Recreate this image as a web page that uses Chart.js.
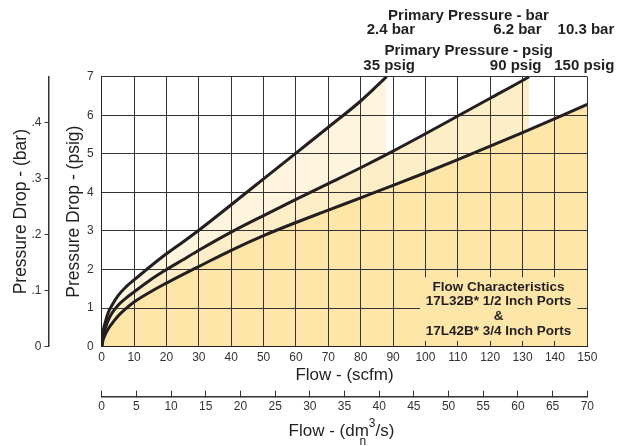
<!DOCTYPE html>
<html><head><meta charset="utf-8">
<script src="https://cdn.jsdelivr.net/npm/chart.js@4/dist/chart.umd.min.js"></script>
<style>html,body{margin:0;padding:0;background:#fff}canvas{display:block}</style>
</head><body>
<canvas id="c" width="626" height="446" style="width:626px;height:446px"></canvas>
<script>
// ---- data ----
const flow35 = [0, 0.5, 1, 2, 3, 5, 7.5, 10, 15, 20, 25, 30, 40, 50, 60, 70, 80, 88];
const drop35 = [0, 0.42, 0.6, 0.88, 1.05, 1.32, 1.55, 1.73, 2.08, 2.41, 2.71, 3.02, 3.68, 4.35, 5.02, 5.69, 6.37, 7.0];
const flow90 = [0, 0.5, 1, 2, 3, 5, 7.5, 10, 15, 20, 25, 30, 40, 50, 60, 70, 80, 90, 100, 110, 120, 130, 132];
const drop90 = [0, 0.3, 0.45, 0.68, 0.85, 1.07, 1.26, 1.42, 1.73, 2.0, 2.25, 2.5, 2.97, 3.4, 3.82, 4.23, 4.64, 5.07, 5.52, 5.98, 6.44, 6.9, 7.0];
const flow150 = [0, 0.5, 1, 2, 3, 5, 7.5, 10, 15, 20, 25, 30, 40, 50, 60, 70, 80, 90, 100, 110, 120, 130, 140, 150];
const drop150 = [0, 0.2, 0.3, 0.46, 0.58, 0.79, 0.99, 1.16, 1.42, 1.65, 1.87, 2.08, 2.5, 2.88, 3.22, 3.54, 3.86, 4.18, 4.51, 4.85, 5.2, 5.55, 5.91, 6.28];
const seriesNames = ['150 psig', '90 psig', '35 psig'];
const barTickLabels = ['0', '.1', '.2', '.3', '.4'];
const psigTickLabels = ['0', '1', '2', '3', '4', '5', '6', '7'];
const barHeaderLabels = ['2.4 bar', '6.2 bar', '10.3 bar'];
const psigHeaderLabels = ['35 psig', '90 psig', '150 psig'];
const boxLines = ['Flow Characteristics', '17L32B* 1/2 Inch Ports', '&', '17L42B* 3/4 Inch Ports'];
const PSI_PER_BAR = 14.5038;
const SCFM_MAX = 150, DM_MAX = 70, PSIG_MAX = 7;

const FONT = '"Liberation Sans", Arial, Helvetica, sans-serif';
const INK = '#231f20';
const FILLS = ['#fde6a8', '#feeec8', '#fff5df'];

const toXY = (xs, ys) => xs.map((x, i) => ({x: x, y: ys[i]}));

const annot = {
  id: 'annot',
  afterDatasetsDraw(chart) {
    const ctx = chart.ctx, xs = chart.scales.x, ys = chart.scales.y;
    const l = xs.getPixelForValue(98.3), r = xs.getPixelForValue(146.9);
    const t = ys.getPixelForValue(1.8), b = ys.getPixelForValue(0.15);
    ctx.save();
    ctx.fillStyle = FILLS[0];
    ctx.fillRect(l, t, r - l, b - t);
    ctx.fillStyle = INK;
    ctx.font = 'bold 13.5px ' + FONT;
    ctx.textAlign = 'center';
    ctx.textBaseline = 'middle';
    const cx = (l + r) / 2;
    boxLines.forEach((s, i) => ctx.fillText(s, cx, 287 + i * 14.7));
    ctx.restore();
  },
  afterDraw(chart) {
    const ctx = chart.ctx;
    ctx.save();
    ctx.fillStyle = INK;
    ctx.textBaseline = 'middle';
    ctx.font = 'bold 15px ' + FONT;
    ctx.textAlign = 'center';
    ctx.fillText('Primary Pressure - bar', 468.5, 15.5);
    ctx.fillText('Primary Pressure - psig', 468.7, 51);
    ctx.textAlign = 'right';
    const rights = [415, 541.5, 614.3];
    barHeaderLabels.forEach((s, i) => ctx.fillText(s, rights[i], 30));
    psigHeaderLabels.forEach((s, i) => ctx.fillText(s, rights[i], 65.5));
    // dm3/s title
    const dm = chart.scales.dm;
    const cx = (dm.left + dm.right) / 2 - 3;
    const base = 436;
    ctx.textBaseline = 'alphabetic';
    ctx.textAlign = 'left';
    ctx.font = '17px ' + FONT;
    const p1 = 'Flow - (dm', p2 = '/s)';
    const w1 = ctx.measureText(p1).width, w2 = ctx.measureText(p2).width;
    const wm = ctx.measureText('m').width;
    ctx.font = '12px ' + FONT;
    const ws = ctx.measureText('3').width;
    const x0 = cx - (w1 + ws + w2) / 2;
    ctx.font = '17px ' + FONT;
    ctx.fillText(p1, x0, base);
    ctx.fillText(p2, x0 + w1 + ws, base);
    ctx.font = '12px ' + FONT;
    ctx.fillText('3', x0 + w1, base - 9);
    ctx.textAlign = 'center';
    ctx.fillText('n', x0 + w1 - wm / 2 + 1, base + 9);
    ctx.restore();
  }
};

new Chart(document.getElementById('c'), {
  type: 'line',
  data: {
    datasets: [
      {label: seriesNames[0], data: toXY(flow150, drop150), backgroundColor: FILLS[0], fill: 'origin'},
      {label: seriesNames[1], data: toXY(flow90, drop90), backgroundColor: FILLS[1], fill: 'origin'},
      {label: seriesNames[2], data: toXY(flow35, drop35), backgroundColor: FILLS[2], fill: 'origin'}
    ].map(d => Object.assign(d, {borderColor: INK, borderWidth: 3, pointRadius: 0, cubicInterpolationMode: 'monotone'}))
  },
  options: {
    responsive: false,
    animation: false,
    devicePixelRatio: 1,
    layout: {padding: {left: 0, top: 76.7, right: 38.7, bottom: 0}},
    plugins: {
      legend: {display: false},
      tooltip: {enabled: false},
      filler: {drawTime: 'beforeDraw'}
    },
    scales: {
      x: {
        type: 'linear', position: 'bottom', weight: 0,
        min: 0, max: SCFM_MAX,
        ticks: {stepSize: 10, color: '#333', padding: 4, font: {family: FONT, size: 12}},
        grid: {color: '#333', lineWidth: 1, drawTicks: false},
        border: {color: '#222', width: 1},
        title: {display: true, text: 'Flow - (scfm)', color: INK, font: {family: FONT, size: 17}, padding: {top: 0, bottom: 11}},
        afterFit(s) { s.height = 50; }
      },
      dm: {
        type: 'linear', position: 'bottom', weight: 1,
        min: 0, max: DM_MAX,
        ticks: {stepSize: 5, color: '#333', padding: 9, font: {family: FONT, size: 12}},
        grid: {drawOnChartArea: false, drawTicks: true, tickLength: -6, color: '#333', lineWidth: 1},
        border: {color: '#333', width: 1.5},
        afterFit(s) { s.height = 49.3; }
      },
      y: {
        type: 'linear', position: 'left', weight: 0,
        min: 0, max: PSIG_MAX,
        ticks: {stepSize: 1, color: '#333', padding: 8, font: {family: FONT, size: 12},
          callback: (v, i) => psigTickLabels[i]},
        grid: {color: '#333', lineWidth: 1, drawTicks: false},
        border: {color: '#222', width: 1},
        title: {display: true, text: 'Pressure Drop - (psig)', color: INK, font: {family: FONT, size: 17.5}, padding: {top: 15, bottom: 0}},
        afterFit(s) { s.width = 53.2; }
      },
      bar: {
        type: 'linear', position: 'left', weight: 1,
        min: 0, max: PSIG_MAX / PSI_PER_BAR,
        ticks: {stepSize: 0.1, includeBounds: false, color: '#333', padding: 3, font: {family: FONT, size: 12},
          callback: (v, i) => barTickLabels[i]},
        grid: {drawOnChartArea: false, drawTicks: true, tickLength: 4, color: '#333'},
        border: {color: '#333', width: 1.5},
        title: {display: true, text: 'Pressure Drop - (bar)', color: INK, font: {family: FONT, size: 17.5}, padding: {top: 11, bottom: 0}},
        afterFit(s) { s.width = 48.5; }
      }
    }
  },
  plugins: [annot]
});
</script>
</body></html>
